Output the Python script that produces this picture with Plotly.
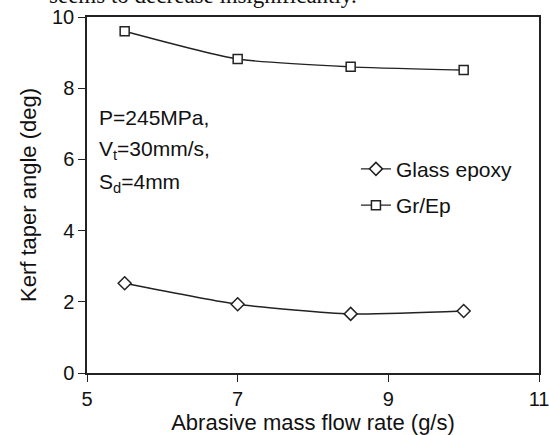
import plotly.graph_objects as go

flow_rate = [5.5, 7, 8.5, 10]
glass_epoxy = [2.52, 1.93, 1.66, 1.74]
gr_ep = [9.6, 8.82, 8.6, 8.51]
x_ticks = [5, 7, 9, 11]
y_ticks = [0, 2, 4, 6, 8, 10]
cond_lines = ["P=245MPa,", "V<sub>t</sub>=30mm/s,", "S<sub>d</sub>=4mm"]

FONT = "Liberation Sans, Arial, sans-serif"
LC = "#222222"

fig = go.Figure()
fig.add_trace(go.Scatter(
    x=flow_rate, y=glass_epoxy, name="Glass epoxy", mode="lines+markers",
    line=dict(color=LC, width=1.4, shape="spline", smoothing=0.6),
    marker=dict(symbol="diamond", size=10, color="white", line=dict(color=LC, width=1.5)),
    legendgroup="a"))
fig.add_trace(go.Scatter(
    x=flow_rate, y=gr_ep, name="Gr/Ep", mode="lines+markers",
    line=dict(color=LC, width=1.4, shape="spline", smoothing=0.6),
    marker=dict(symbol="square", size=9, color="white", line=dict(color=LC, width=1.5)),
    legendgroup="b"))

axis_common = dict(showgrid=False, zeroline=False, showline=True, linecolor=LC, linewidth=1.5,
                   mirror=True, ticks="outside", ticklen=7, tickwidth=1.3, tickcolor=LC,
                   automargin=False, ticklabeloverflow="allow",
                   tickfont=dict(family=FONT, size=20, color="#111"))

fig.update_xaxes(range=[5, 11], tickvals=x_ticks,
                 title=dict(text="Abrasive mass flow rate (g/s)", font=dict(family=FONT, size=22, color="#111"), standoff=15),
                 **axis_common)
fig.update_yaxes(range=[0, 10], tickvals=y_ticks,
                 title=dict(text="Kerf taper angle (deg)", font=dict(family=FONT, size=22, color="#111"), standoff=9),
                 **axis_common)

for i, line in enumerate(cond_lines):
    fig.add_annotation(
        xref="paper", yref="paper", x=0.022, y=0.717 - i * 0.091, xanchor="left", yanchor="middle",
        showarrow=False, align="left", text=line,
        font=dict(family=FONT, size=21, color="#111"))

fig.add_annotation(
    xref="paper", yref="paper", x=-0.088, y=1, xanchor="left", yanchor="bottom", yshift=7, showarrow=False,
    text="seems to decrease insignificantly.",
    font=dict(family="Liberation Serif, Times New Roman, serif", size=23, color="#111"))

fig.update_layout(
    width=549, height=435,
    margin=dict(l=87, r=10, t=17, b=62),
    paper_bgcolor="white", plot_bgcolor="white",
    showlegend=True,
    legend=dict(x=0.595, y=0.63, xanchor="left", yanchor="top", bgcolor="rgba(0,0,0,0)",
                font=dict(family=FONT, size=21, color="#111"), tracegroupgap=6, itemwidth=30),
)

fig.write_html("out.html")
